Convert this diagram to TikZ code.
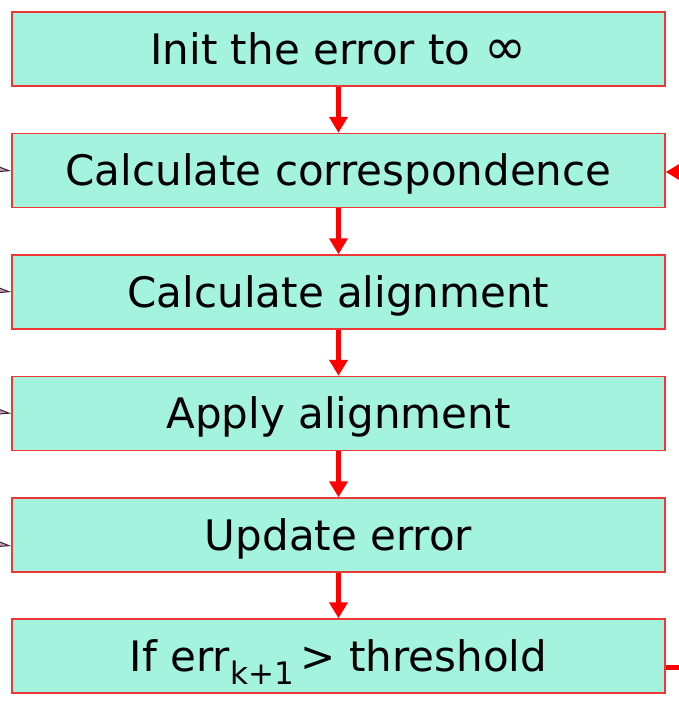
\documentclass[tikz,border=0pt]{standalone}
\usepackage{fontspec}
\setmainfont{DejaVu Sans}
\usetikzlibrary{arrows.meta,calc}
\definecolor{boxfill}{RGB}{163,243,222}
\definecolor{boxline}{RGB}{240,55,55}
\definecolor{tippink}{RGB}{205,150,190}
\definecolor{tipline}{RGB}{50,40,50}
\begin{document}
\begin{tikzpicture}[x=1pt,y=-1pt,
  stepbox/.style={draw=boxline, line width=1.5pt, fill=boxfill,
    minimum width=653pt, minimum height=74pt, inner sep=0pt,
    text height=30.6pt, text depth=0pt,
    font=\fontsize{42}{50}\selectfont},
  flow/.style={draw=red, line width=5pt, -{Triangle[width=18pt,length=16pt]}},
  inflow/.style={draw=tipline, line width=1pt,
    -{Triangle[width=10pt,length=22pt,fill=tippink]}}]
\useasboundingbox (0,0) rectangle (679,705);
\clip (0,0) rectangle (679,705);
\node[stepbox] (b1) at (338.5,49)    {Init the error to\hspace{14pt}\scalebox{1.2}{∞}};
\node[stepbox] (b2) at (338.5,170.5) {Calculate correspondence};
\node[stepbox] (b3) at (338.5,292)   {Calculate alignment};
\node[stepbox] (b4) at (338.5,413.5) {Apply alignment};
\node[stepbox] (b5) at (338.5,535)   {Update error};
\node[stepbox] (b6) at (338.5,656)   {If err\raisebox{-13pt}{\fontsize{31}{31}\selectfont k+1}\,> threshold};
\draw[flow] (b1) -- (b2);
\draw[flow] (b2) -- (b3);
\draw[flow] (b3) -- (b4);
\draw[flow] (b4) -- (b5);
\draw[flow] (b5) -- (b6);
% feedback loop on the right (runs off the page)
\coordinate (r6) at ($(b6.east)+(0,11)$);
\coordinate (r2) at ($(b2.east)+(0,1.5)$);
\draw[flow] (r6) -- ++(60,0) |- (r2);
% incoming arrows on the left (their sources lie off the page)
\coordinate (l2) at (-40,164);
\coordinate (l3) at (-40,285);
\coordinate (l4) at (-40,406);
\coordinate (l5) at (-40,538);
\coordinate (t5) at ($(b5.west)+(0,11)$);
\draw[inflow] (l2) -- ($(b2.west)+(0,0.5)$);
\draw[inflow] (l3) -- (b3.west);
\draw[inflow] (l4) -- (b4.west);
\draw[inflow] (l5) -- (t5);
\end{tikzpicture}
\end{document}
